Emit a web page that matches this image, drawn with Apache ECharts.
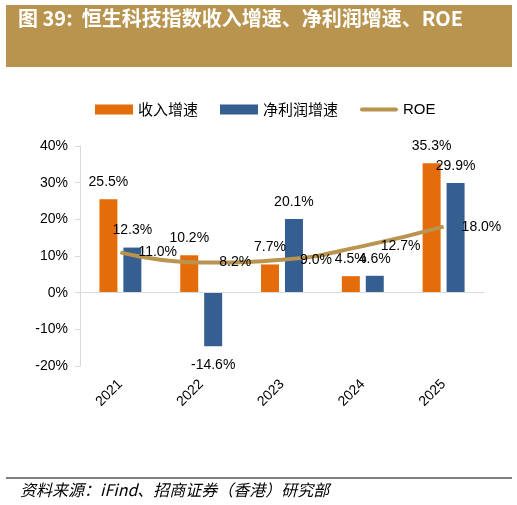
<!DOCTYPE html>
<html>
<head>
<meta charset="utf-8">
<script src="https://cdn.jsdelivr.net/npm/echarts@6/dist/echarts.min.js"></script>
<style>
  html, body { margin: 0; padding: 0; background: #fff; }
  #main { width: 517px; height: 505px; }
</style>
</head>
<body>
<div id="main"></div>
<script>
const years = ['2021', '2022', '2023', '2024', '2025']
const revenueGrowth = [25.5, 10.2, 7.7, 4.5, 35.3]
const profitGrowth = [12.3, -14.6, 20.1, 4.6, 29.9]
const roe = [11.0, 8.2, 9.0, 12.7, 18.0]
const yTicks = [-20, -10, 0, 10, 20, 30, 40]

const numFont = '"Liberation Sans", Arial, sans-serif'
const cjkFont = '"Noto Sans CJK SC", sans-serif'
const pct = (p) => p.value.toFixed(1) + '%'

const myChart = echarts.init(document.getElementById('main'))
const option = {
  backgroundColor: '#fff',
  animation: false,
  graphic: [
    { type: 'rect', shape: { x: 6, y: 5, width: 506, height: 62 }, style: { fill: '#B8944F' } },
    {
      type: 'text', left: 18, top: 8,
      style: { text: '图 39:  恒生科技指数收入增速、净利润增速、ROE', fill: '#fff', font: 'bold 20px ' + cjkFont }
    },
    { type: 'line', shape: { x1: 6, y1: 478, x2: 512, y2: 478 }, style: { stroke: '#000', lineWidth: 1 } },
    {
      type: 'text', left: 20, top: 482,
      style: { text: '资料来源：iFind、招商证券（香港）研究部', fill: '#000', font: 'italic 16px ' + cjkFont }
    }
  ],
  legend: {
    left: 90,
    top: 97,
    itemGap: 22,
    itemWidth: 38,
    itemHeight: 10,
    textStyle: { fontSize: 15, color: '#000', fontFamily: cjkFont },
    data: [
      { name: '收入增速', icon: 'rect' },
      { name: '净利润增速', icon: 'rect' },
      { name: 'ROE', icon: 'path://M2,0 L36,0 A2,2 0 0 1 36,4 L2,4 A2,2 0 0 1 2,0 Z', textStyle: { fontFamily: numFont } }
    ]
  },
  grid: { left: 80, right: 33, top: 146, bottom: 139 },
  xAxis: {
    type: 'category',
    data: years,
    axisLine: { show: false },
    axisTick: { show: false },
    axisLabel: { rotate: 45, fontSize: 14, color: '#000', fontFamily: numFont, margin: 16 }
  },
  yAxis: {
    type: 'value',
    min: yTicks[0],
    max: yTicks[yTicks.length - 1],
    interval: 10,
    axisLine: { show: true, lineStyle: { color: '#d9d9d9' } },
    axisTick: { show: true, length: 5, lineStyle: { color: '#d9d9d9' } },
    splitLine: { show: false },
    axisLabel: { fontSize: 14, color: '#000', fontFamily: numFont, margin: 12, formatter: '{value}%' }
  },
  series: [
    {
      name: '收入增速',
      type: 'bar',
      data: revenueGrowth,
      barWidth: 18,
      barGap: '33%',
      itemStyle: { color: '#E46C0A' },
      label: { show: true, position: 'top', distance: 10, fontSize: 14, color: '#000', fontFamily: numFont, formatter: pct },
      markLine: {
        silent: true,
        symbol: 'none',
        label: { show: false },
        lineStyle: { color: '#d9d9d9', type: 'solid', width: 1 },
        data: [{ yAxis: 0 }]
      }
    },
    {
      name: '净利润增速',
      type: 'bar',
      data: profitGrowth,
      barWidth: 18,
      itemStyle: { color: '#365F91' },
      label: { show: true, position: 'top', distance: 10, fontSize: 14, color: '#000', fontFamily: numFont, formatter: pct },
      labelLayout: (params) => params.dataIndex === 1
        ? { x: params.rect.x + params.rect.width / 2, y: params.rect.y + params.rect.height + 19, align: 'center', verticalAlign: 'middle' }
        : {}
    },
    {
      name: 'ROE',
      type: 'line',
      data: roe,
      smooth: true,
      symbol: 'circle',
      symbolSize: 0,
      lineStyle: { color: '#B8944F', width: 4 },
      itemStyle: { color: '#B8944F' },
      label: { show: true, position: 'right', distance: 18, fontSize: 14, color: '#000', fontFamily: numFont, formatter: pct }
    }
  ]
}
option && myChart.setOption(option)
</script>
</body>
</html>
